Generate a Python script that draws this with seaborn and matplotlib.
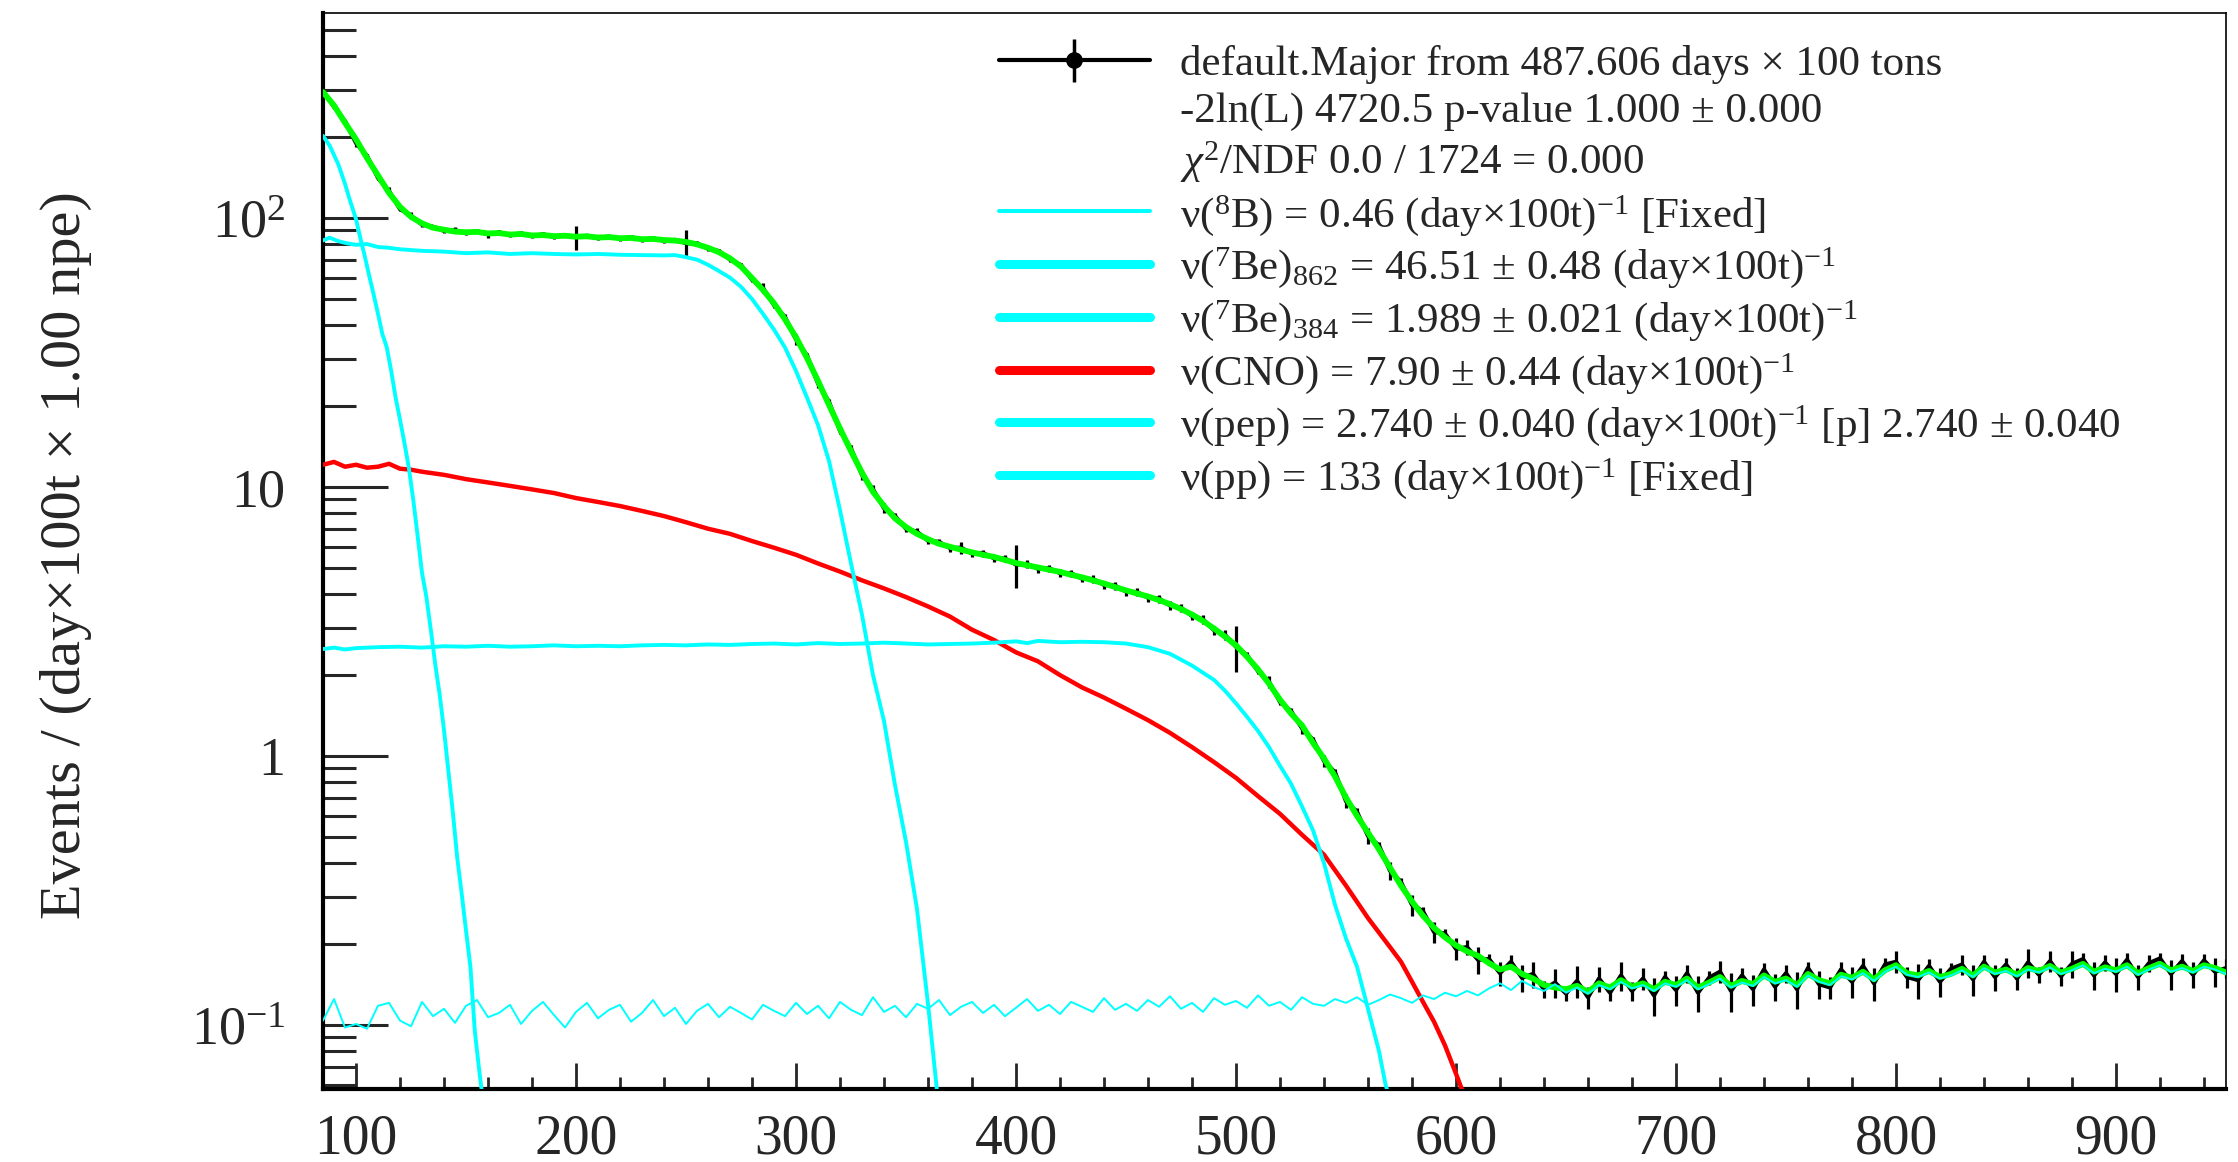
import numpy as np
import matplotlib
matplotlib.use('Agg')
import matplotlib.pyplot as plt
import seaborn as sns
from matplotlib.lines import Line2D
from matplotlib.ticker import MultipleLocator, LogLocator, NullFormatter

# ---------------- data ----------------
# common 5-npe grid, 85 ... 950
grid = np.arange(85, 951, 5)

total_fit = [
    294, 262, 226, 196, 167, 144, 124, 110, 101, 95.5,            # 85-130
    92, 90.5, 89, 88.5, 88.8, 87.6, 87.9, 86.8, 87.2, 86.1,       # 135-180
    86.4, 85.6, 85.9, 85.2, 85.5, 84.6, 84.9, 84.1, 84.3, 83.4,   # 185-230
    83.6, 82.8, 82.4, 81.5, 79.8, 77.5, 74.6, 70.8, 66.0, 59.8,   # 235-280
    54.0, 48.2, 42.0, 36.0, 30.2, 24.8, 20.2, 16.5, 13.6, 11.3,   # 285-330
    9.6, 8.5, 7.65, 7.1, 6.7, 6.4, 6.15, 6.0, 5.85, 5.72,         # 335-380
    5.6, 5.5, 5.36, 5.22, 5.12, 5.02, 4.93, 4.84, 4.72, 4.62,     # 385-430
    4.5, 4.38, 4.25, 4.13, 4.02, 3.92, 3.8, 3.67, 3.52, 3.36,     # 435-480
    3.18, 2.98, 2.78, 2.58, 2.34, 2.1, 1.86, 1.62, 1.44, 1.3,     # 485-530
    1.12, 0.98, 0.84, 0.70, 0.60, 0.52, 0.45, 0.385, 0.33, 0.288, # 535-580
    0.255, 0.23, 0.212, 0.198, 0.188, 0.181, 0.17, 0.161, 0.165, 0.155,  # 585-630
    0.149, 0.141, 0.138, 0.136, 0.14, 0.133, 0.143, 0.138, 0.147, 0.139, # 635-680
    0.143, 0.136, 0.145, 0.141, 0.149, 0.138, 0.144, 0.151, 0.14, 0.146, # 685-730
    0.142, 0.153, 0.145, 0.149, 0.141, 0.155, 0.147, 0.143, 0.154, 0.15, # 735-780
    0.158, 0.148, 0.16, 0.167, 0.156, 0.153, 0.159, 0.151, 0.155, 0.162, # 785-830
    0.153, 0.165, 0.157, 0.161, 0.154, 0.163, 0.159, 0.166, 0.157, 0.162, # 835-880
    0.169, 0.158, 0.164, 0.16, 0.167, 0.156, 0.163, 0.169, 0.16, 0.165,  # 885-930
    0.159, 0.167, 0.163, 0.157,                                          # 935-950
]

b8 = [
    0.104, 0.125, 0.098, 0.101, 0.097, 0.118, 0.121, 0.104, 0.099, 0.122,
    0.108, 0.115, 0.102, 0.118, 0.124, 0.107, 0.111, 0.119, 0.101, 0.113,
    0.122, 0.109, 0.098, 0.112, 0.121, 0.106, 0.114, 0.119, 0.103, 0.111,
    0.124, 0.108, 0.116, 0.101, 0.113, 0.12, 0.107, 0.117, 0.111, 0.105,
    0.119, 0.113, 0.108, 0.121, 0.11, 0.118, 0.106, 0.122, 0.114, 0.109,
    0.127, 0.112, 0.118, 0.107, 0.12, 0.115, 0.124, 0.109, 0.117, 0.122,
    0.111, 0.119, 0.108, 0.116, 0.125, 0.113, 0.119, 0.11, 0.122, 0.117,
    0.112, 0.126, 0.114, 0.12, 0.113, 0.124, 0.117, 0.128, 0.115, 0.121,
    0.112, 0.126, 0.119, 0.123, 0.116, 0.129, 0.118, 0.122, 0.114, 0.127,
    0.12, 0.118, 0.125, 0.121, 0.127, 0.119, 0.124, 0.13, 0.126, 0.121,
    0.129, 0.125, 0.132, 0.128, 0.134, 0.129, 0.137, 0.143, 0.135, 0.146,
    0.139, 0.134, 0.142, 0.132, 0.138, 0.131, 0.141, 0.136, 0.145, 0.137,
    0.141, 0.134, 0.143, 0.139, 0.147, 0.136, 0.142, 0.149, 0.138, 0.144,
    0.14, 0.151, 0.143, 0.147, 0.139, 0.153, 0.145, 0.141, 0.152, 0.148,
    0.156, 0.146, 0.158, 0.165, 0.154, 0.151, 0.157, 0.149, 0.153, 0.16,
    0.151, 0.163, 0.155, 0.159, 0.152, 0.161, 0.157, 0.164, 0.155, 0.16,
    0.167, 0.156, 0.162, 0.158, 0.165, 0.154, 0.161, 0.167, 0.158, 0.163,
    0.157, 0.165, 0.161, 0.155,
]

data_val = [
    296, 259, 229, 190, 170, 141, 126, 108, 102, 94.5,
    92.8, 89.6, 90.1, 87.9, 89.2, 87.0, 88.4, 86.5, 87.6, 85.7,
    86.9, 85.1, 86.3, 84.8, 85.9, 84.2, 85.3, 83.7, 84.8, 83.1,
    84.0, 82.3, 82.9, 80.6, 80.3, 77.0, 75.3, 70.1, 66.8, 59.0,
    54.9, 47.5, 42.8, 35.4, 30.8, 24.3, 20.7, 16.2, 13.9, 11.1,
    9.8, 8.35, 7.8, 7.0, 6.82, 6.32, 6.25, 5.93, 5.95, 5.66,
    5.68, 5.44, 5.42, 5.15, 5.18, 4.97, 4.99, 4.79, 4.78, 4.57,
    4.55, 4.33, 4.3, 4.09, 4.07, 3.88, 3.85, 3.63, 3.56, 3.32,
    3.22, 2.94, 2.82, 2.55, 2.37, 2.07, 1.89, 1.59, 1.47, 1.27,
    1.15, 0.96, 0.87, 0.68, 0.62, 0.505, 0.465, 0.375, 0.34, 0.28,
    0.265, 0.222, 0.219, 0.192, 0.195, 0.175, 0.176, 0.156, 0.172, 0.15,
    0.155, 0.136, 0.144, 0.131, 0.146, 0.127, 0.149, 0.132, 0.153, 0.134,
    0.149, 0.129, 0.151, 0.135, 0.156, 0.132, 0.15, 0.158, 0.134, 0.153,
    0.136, 0.161, 0.139, 0.156, 0.136, 0.163, 0.142, 0.138, 0.161, 0.145,
    0.166, 0.143, 0.168, 0.172, 0.151, 0.147, 0.166, 0.145, 0.162, 0.168,
    0.148, 0.172, 0.151, 0.168, 0.149, 0.171, 0.154, 0.173, 0.152, 0.169,
    0.176, 0.153, 0.171, 0.155, 0.175, 0.151, 0.17, 0.177, 0.155, 0.173,
    0.154, 0.174, 0.158, 0.163,
]

data_err = [
    3.5, 3.2, 2.9, 6.0, 2.4, 2.2, 4.5, 1.8, 3.0, 1.6,
    1.5, 1.5, 2.5, 1.5, 1.5, 2.6, 1.5, 1.5, 1.5, 1.5,
    1.5, 1.5, 1.5, 8.5, 1.5, 1.5, 1.5, 1.5, 1.5, 1.5,
    1.5, 1.5, 1.5, 9.5, 1.5, 1.4, 1.4, 1.3, 1.3, 1.2,
    2.2, 1.1, 1.0, 1.8, 0.8, 1.0, 0.6, 0.5, 0.45, 0.45,
    0.35, 0.35, 0.2, 0.2, 0.2, 0.2, 0.18, 0.18, 0.3, 0.17,
    0.17, 0.17, 0.17, 0.95, 0.16, 0.16, 0.15, 0.15, 0.15, 0.15,
    0.15, 0.14, 0.14, 0.14, 0.14, 0.13, 0.13, 0.13, 0.13, 0.12,
    0.12, 0.11, 0.11, 0.5, 0.06, 0.05, 0.1, 0.04, 0.035, 0.06,
    0.03, 0.05, 0.025, 0.04, 0.02, 0.035, 0.015, 0.03, 0.012, 0.025,
    0.01, 0.02, 0.009, 0.018, 0.012, 0.02, 0.008, 0.016, 0.01, 0.017,
    0.017, 0.01, 0.018, 0.008, 0.02, 0.012, 0.016, 0.009, 0.019, 0.011,
    0.014, 0.021, 0.008, 0.017, 0.012, 0.02, 0.009, 0.015, 0.022, 0.01,
    0.018, 0.009, 0.016, 0.012, 0.021, 0.008, 0.017, 0.013, 0.01, 0.019,
    0.011, 0.02, 0.009, 0.016, 0.013, 0.022, 0.01, 0.018, 0.008, 0.015,
    0.02, 0.011, 0.017, 0.009, 0.014, 0.021, 0.01, 0.016, 0.012, 0.019,
    0.009, 0.018, 0.012, 0.022, 0.01, 0.016, 0.013, 0.008, 0.02, 0.011,
    0.017, 0.01, 0.019, 0.013,
]

pp_x = [85, 88, 92, 95, 97, 100, 102, 104, 106, 108, 110, 112, 114, 116, 118,
        120, 122, 124, 126, 128, 130, 132, 134, 136, 138, 140, 142, 144, 146,
        148, 150, 152, 154, 156, 158]
pp_y = [202, 186, 158, 134, 118, 99, 84, 72, 61, 52, 44, 37, 33, 27, 21.5,
        17.8, 14.6, 11.8, 9.0, 6.6, 4.8, 3.9, 2.95, 2.2, 1.7, 1.25, 0.88, 0.62,
        0.42, 0.31, 0.225, 0.165, 0.095, 0.068, 0.05]

be7_x = [85, 88, 92, 96, 100, 105, 110, 115, 120,
         130, 140, 150, 160, 170, 180, 190, 200, 210, 220, 230, 240,
         245, 250, 255, 260, 265, 270, 275, 280, 285, 290, 295, 300, 305, 310,
         315, 320, 325, 330, 335, 340, 345, 350, 355, 360, 364]
be7_y = [82.5, 84.5, 82, 80.5, 79.5, 80, 78, 77.5, 76.5,
         75.5, 75, 74, 74.5, 73.5, 74, 73.5, 73.2, 73.5, 73, 72.8, 72.6,
         72.8, 71.5, 70, 67, 63.5, 60, 55.5, 50, 44, 38.5, 33, 27, 21.5, 17,
         12.5, 8.2, 5.2, 3.35, 2.0, 1.35, 0.78, 0.48, 0.27, 0.12, 0.058]

pep_x = [85, 90, 95, 100, 110, 120, 130, 140, 150, 160, 170, 180, 190, 200,
         210, 220, 230, 240, 250, 260, 270, 280, 290, 300, 310, 320, 330, 340,
         350, 360, 370, 380, 390, 400, 405, 410, 420, 430, 440, 450, 460, 470,
         480, 490, 495, 500, 505, 510, 515, 520, 525, 530, 535, 540, 545, 550,
         555, 560, 565, 568, 571]
pep_y = [2.50, 2.53, 2.49, 2.52, 2.54, 2.55, 2.53, 2.56, 2.55, 2.57, 2.55, 2.56,
         2.58, 2.56, 2.57, 2.56, 2.58, 2.59, 2.58, 2.60, 2.59, 2.61, 2.62, 2.60,
         2.63, 2.61, 2.62, 2.64, 2.62, 2.60, 2.61, 2.62, 2.64, 2.67, 2.63, 2.68,
         2.65, 2.66, 2.65, 2.62, 2.54, 2.40, 2.17, 1.92, 1.75, 1.57, 1.40, 1.24,
         1.08, 0.92, 0.79, 0.65, 0.53, 0.40, 0.28, 0.21, 0.165, 0.115, 0.08,
         0.06, 0.05]

cno_x = [85, 90, 95, 100, 105, 110, 115, 120, 125, 130,
         140, 150, 160, 170, 180, 190, 200, 210, 220, 230, 240, 250, 260, 270,
         280, 290, 300, 310, 320, 330, 340, 350, 360, 370, 380, 390, 400, 410,
         420, 430, 440, 450, 460, 470, 480, 490, 500, 510, 520, 530, 540, 550,
         560, 570, 575, 580, 585, 590, 595, 600, 604]
cno_y = [12.1, 12.4, 11.9, 12.1, 11.8, 11.9, 12.2, 11.7, 11.6, 11.4,
         11.1, 10.7, 10.4, 10.1, 9.8, 9.5, 9.1, 8.8, 8.5, 8.15, 7.8, 7.4, 7.0,
         6.7, 6.3, 5.95, 5.6, 5.2, 4.85, 4.5, 4.2, 3.9, 3.6, 3.3, 2.95, 2.7,
         2.43, 2.25, 2.0, 1.8, 1.65, 1.5, 1.36, 1.22, 1.08, 0.95, 0.83, 0.71,
         0.61, 0.51, 0.43, 0.33, 0.25, 0.195, 0.172, 0.145, 0.122, 0.103, 0.084,
         0.066, 0.054]

x_ticks = [100, 200, 300, 400, 500, 600, 700, 800, 900]
y_ticks = [0.1, 1, 10, 100]
y_tick_labels = [r'$10^{-1}$', '1', '10', r'$10^{2}$']

legend_labels = [
    'default.Major from 487.606 days × 100 tons',
    '-2ln(L) 4720.5 p-value 1.000 ± 0.000',
    r'$\chi^{2}$/NDF 0.0 / 1724 = 0.000',
    r'ν($^{8}$B) = 0.46 (day×100t)$^{-1}$ [Fixed]',
    r'ν($^{7}$Be)$_{862}$ = 46.51 ± 0.48 (day×100t)$^{-1}$',
    r'ν($^{7}$Be)$_{384}$ = 1.989 ± 0.021 (day×100t)$^{-1}$',
    r'ν(CNO) = 7.90 ± 0.44 (day×100t)$^{-1}$',
    r'ν(pep) = 2.740 ± 0.040 (day×100t)$^{-1}$ [p] 2.740 ± 0.040',
    r'ν(pp) = 133 (day×100t)$^{-1}$ [Fixed]',
]

# ---------------- style ----------------
sns.set_style('ticks')
plt.rcParams['font.family'] = ['Liberation Serif', 'DejaVu Serif']
plt.rcParams['mathtext.fontset'] = 'custom'
plt.rcParams['mathtext.rm'] = 'Liberation Serif'
plt.rcParams['mathtext.it'] = 'Liberation Serif:italic'
plt.rcParams['mathtext.bf'] = 'Liberation Serif:bold'

CYAN = '#00ffff'
GREEN = '#00ff00'
RED = '#ff0000'

W, H = 2238, 1162
fig = plt.figure(figsize=(W / 100, H / 100), dpi=100)
fig.patch.set_facecolor('white')
ax = fig.add_axes([323 / W, 1 - 1089.4 / H, (2226 - 323) / W, (1089.4 - 13.4) / H])
ax.set_facecolor('white')
ax.set_yscale('log')

# data with error bars (under the fit)
ax.errorbar(grid, data_val, yerr=data_err, fmt='-', color='black', lw=3.0,
            elinewidth=2.3, capsize=0, zorder=2)
# total fit
sns.lineplot(x=grid, y=total_fit, ax=ax, color=GREEN, linewidth=4.2,
             estimator=None, sort=False, errorbar=None, zorder=3)
# components
sns.lineplot(x=cno_x, y=cno_y, ax=ax, color=RED, linewidth=3.2,
             estimator=None, sort=False, errorbar=None, zorder=4)
sns.lineplot(x=pp_x, y=pp_y, ax=ax, color=CYAN, linewidth=2.8,
             estimator=None, sort=False, errorbar=None, zorder=5)
sns.lineplot(x=be7_x, y=be7_y, ax=ax, color=CYAN, linewidth=2.8,
             estimator=None, sort=False, errorbar=None, zorder=5)
sns.lineplot(x=pep_x, y=pep_y, ax=ax, color=CYAN, linewidth=2.8,
             estimator=None, sort=False, errorbar=None, zorder=5)
sns.lineplot(x=grid, y=b8, ax=ax, color=CYAN, linewidth=1.4,
             estimator=None, sort=False, errorbar=None, zorder=6)

ax.set_xlim(85, 950)
ax.set_ylim(0.0577, 576)

# axes / ticks
ax.xaxis.set_major_locator(MultipleLocator(100))
ax.xaxis.set_minor_locator(MultipleLocator(20))
ax.set_yticks(y_ticks, y_tick_labels)
ax.yaxis.set_minor_locator(LogLocator(base=10, subs=[2, 3, 4, 5, 6, 7, 8, 9], numticks=20))
ax.yaxis.set_minor_formatter(NullFormatter())
ax.set_xticks(x_ticks, [str(v) for v in x_ticks])

ax.tick_params(axis='y', which='major', direction='in', length=47, width=2.2,
               pad=27, labelsize=39, left=True, right=False)
ax.tick_params(axis='y', which='minor', direction='in', length=24, width=2.2,
               left=True, right=False)
ax.tick_params(axis='x', which='major', direction='in', length=19, width=2.0,
               pad=17, labelsize=40, bottom=True, top=False)
ax.tick_params(axis='x', which='minor', direction='in', length=9, width=2.0,
               bottom=True, top=False)

for side in ['left', 'bottom']:
    ax.spines[side].set_linewidth(3.0)
    ax.spines[side].set_color('black')
for side in ['top', 'right']:
    ax.spines[side].set_linewidth(1.2)
    ax.spines[side].set_color('black')

ax.set_ylabel('Events / (day×100t × 1.00 npe)', fontsize=42)
ax.yaxis.set_label_coords(-0.1214, 0.4967)

# legend
h_data = ax.errorbar([], [], yerr=[], fmt='-o', color='black', lw=3.0, ms=11,
                     elinewidth=2.5, capsize=0)
h_blank = Line2D([], [], linestyle='none')
h_b8 = Line2D([], [], color=CYAN, lw=2.9)
h_be862 = Line2D([], [], color=CYAN, lw=6.5)
h_be384 = Line2D([], [], color=CYAN, lw=6.5)
h_cno = Line2D([], [], color=RED, lw=6.5)
h_pep = Line2D([], [], color=CYAN, lw=6.5)
h_pp = Line2D([], [], color=CYAN, lw=6.5)
handles = [h_data, h_blank, h_blank, h_b8, h_be862, h_be384, h_cno, h_pep, h_pp]
ax.legend(handles, legend_labels, loc='upper left', bbox_to_anchor=(0.3552, 0.9705),
          frameon=False, fontsize=31, handlelength=3.5, handletextpad=0.7,
          labelspacing=0.18, borderpad=0, borderaxespad=0, numpoints=1)

fig.savefig('out.png', dpi=100)
